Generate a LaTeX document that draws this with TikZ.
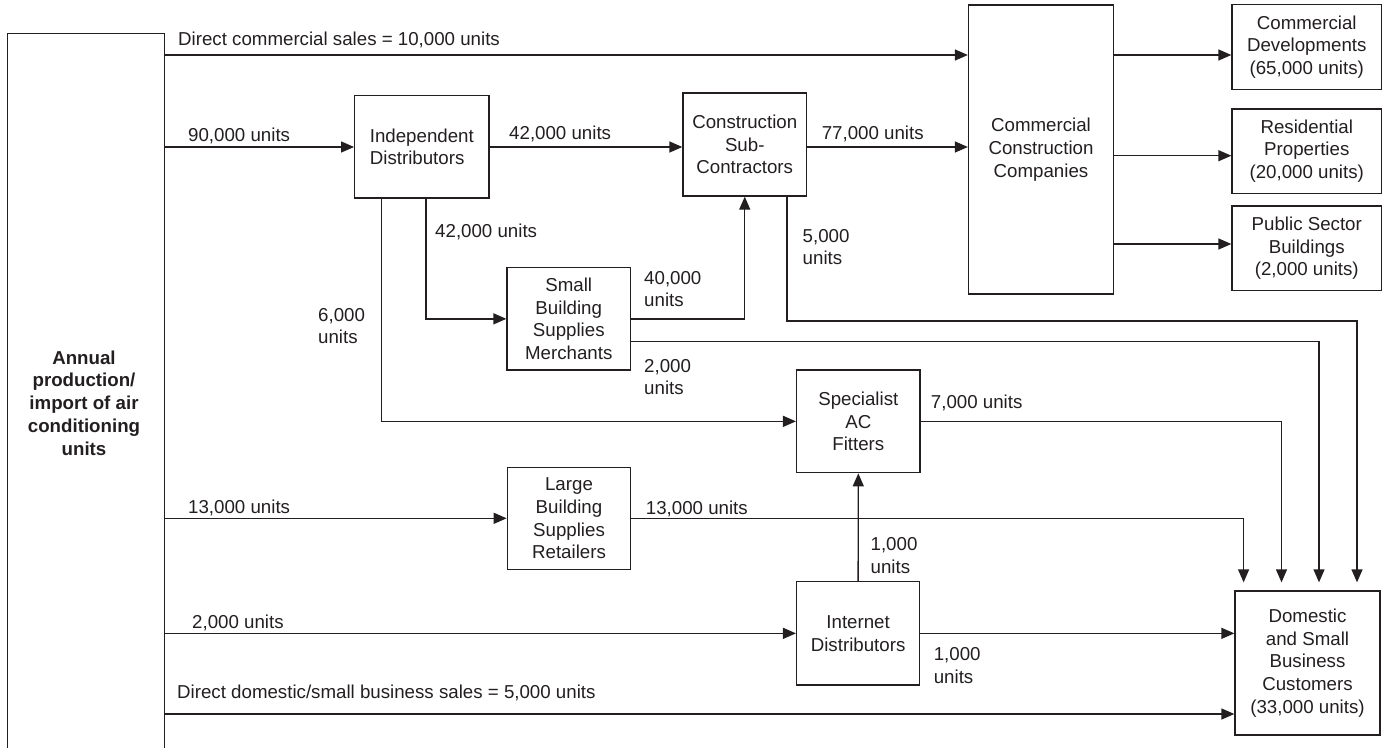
\documentclass[tikz,border=0pt]{standalone}
\usepackage{fontspec}
\setmainfont{Liberation Sans}
\usetikzlibrary{arrows.meta}
\definecolor{ink}{RGB}{35,31,32}
\begin{document}
\begin{tikzpicture}[x=1pt,y=-1pt,
  every node/.style={font=\fontsize{18.7}{22.7}\selectfont, text=ink},
  box/.style={draw=ink, line width=1.3pt, inner sep=0pt, align=center},
  lbl/.style={anchor=base west, inner sep=0pt, align=left},
  flow/.style={draw=ink, line width=1.3pt, -{Triangle[length=13pt,width=11pt]}},
  intop/.style={flow, shorten >=8pt}]

\useasboundingbox (0,0) rectangle (1383,747);

% source column
\node[box, draw=none, minimum width=156pt, minimum height=713pt] (src) at (86,390.5) {};
\draw[ink, line width=1.3pt] (src.south west) -- (src.north west) -- (src.north east) -- (src.south east);
\node[font=\fontsize{18.7}{22.7}\selectfont\bfseries, align=center, inner sep=0pt] (srctext) at (84,403)
  {Annual\\production/\\import of air\\conditioning\\units};

% channel boxes
\node[box, minimum width=134.3pt, minimum height=102.3pt, align=left] (ind) at (421.85,146.85) {Independent\\Distributors};
\node[box, minimum width=123.5pt, minimum height=103pt] (csc) at (744.75,144.5) {Construction\\Sub-\\Contractors};
\node[box, minimum width=145pt, minimum height=289pt] (ccc) at (1041,149.5) {Commercial\\Construction\\Companies};
\node[box, minimum width=149.5pt, minimum height=84.6pt] (rb1) at (1306.75,47) {Commercial\\Developments\\(65,000 units)};
\node[box, minimum width=149.5pt, minimum height=84.3pt] (rb2) at (1306.75,151.15) {Residential\\Properties\\(20,000 units)};
\node[box, minimum width=149.5pt, minimum height=84.7pt] (rb3) at (1306.75,248.35) {Public Sector\\Buildings\\(2,000 units)};
\node[box, minimum width=123.5pt, minimum height=102.3pt] (sbsm) at (568.75,318.85) {Small\\Building\\Supplies\\Merchants};
\node[box, minimum width=123.4pt, minimum height=102.7pt] (sacf) at (858.3,421.35) {Specialist\\AC\\Fitters};
\node[box, minimum width=123.4pt, minimum height=102pt] (lbsr) at (569,518.3) {Large\\Building\\Supplies\\Retailers};
\node[box, minimum width=123pt, minimum height=103.3pt] (id) at (858.1,633.35) {Internet\\Distributors};
\node[box, minimum width=145pt, minimum height=144pt] (dom) at (1307.5,663) {Domestic\\and Small\\Business\\Customers\\(33,000 units)};

% routing levels
\coordinate (yDirCom) at (0,55);
\coordinate (yMain) at (0,147);
\coordinate (yRes) at (0,155.7);
\coordinate (yPub) at (0,244);
\coordinate (yCscDom) at (0,321);
\coordinate (ySbsmDom) at (0,341.7);
\coordinate (yDirDom) at (0,714);
\coordinate (xIndSacf) at (381.7,0);
\coordinate (xIndSbsm) at (426,0);
\coordinate (xCscDom) at (787,0);
\coordinate (xIn1) at (1243.6,0);
\coordinate (xIn2) at (1281.5,0);
\coordinate (xIn3) at (1319,0);
\coordinate (xIn4) at (1357,0);

% flows
\draw[flow] (src.east |- yDirCom) -- (ccc.west |- yDirCom);
\draw[flow] (src.east |- yMain) -- (ind.west |- yMain);
\draw[flow] (ind.east |- yMain) -- (csc.west |- yMain);
\draw[flow] (csc.east |- yMain) -- (ccc.west |- yMain);
\draw[flow] (ccc.east |- yDirCom) -- (rb1.west |- yDirCom);
\draw[flow] (ccc.east |- yRes) -- (rb2.west |- yRes);
\draw[flow] (ccc.east |- yPub) -- (rb3.west |- yPub);
\draw[flow] (xIndSbsm |- ind.south) |- (sbsm.west);
\draw[flow] (xIndSacf |- ind.south) |- (sacf.west);
\draw[flow] (sbsm.east) -| (csc.south);
\draw[intop] (sbsm.east |- ySbsmDom) -| (xIn3 |- dom.north);
\draw[intop] (xCscDom |- csc.south) |- (xIn4 |- yCscDom) -- (xIn4 |- dom.north);
\draw[intop] (sacf.east) -| (xIn2 |- dom.north);
\draw[flow] (src.east |- lbsr.west) -- (lbsr.west);
\draw[intop] (lbsr.east) -| (xIn1 |- dom.north);
\draw[flow] (src.east |- id.west) -- (id.west);
\draw[flow] (id.north) -- (sacf.south);
\draw[flow] (id.east) -- (dom.west |- id.east);
\draw[flow] (src.east |- yDirDom) -- (dom.west |- yDirDom);

% quantities (multi-line labels are placed by the baseline of their last line)
\node[lbl] (lDirCom) at (178,45) {Direct commercial sales = 10,000 units};
\node[lbl] (l90) at (188,141) {90,000 units};
\node[lbl] (l42a) at (509,139.7) {42,000 units};
\node[lbl] (l77) at (821.6,139.7) {77,000 units};
\node[lbl] (l42b) at (435,237.4) {42,000 units};
\node[lbl] (l6) at (318,343.7) {6,000\\units};
\node[lbl] (l40) at (644,306.7) {40,000\\units};
\node[lbl] (l2a) at (644,394.7) {2,000\\units};
\node[lbl] (l5) at (802.5,264.7) {5,000\\units};
\node[lbl] (l7) at (930.7,408.7) {7,000 units};
\node[lbl] (l13a) at (188,513.4) {13,000 units};
\node[lbl] (l13b) at (645.7,514.4) {13,000 units};
\node[lbl] (l1a) at (870.4,573.4) {1,000\\units};
\node[lbl] (l2b) at (192,628.4) {2,000 units};
\node[lbl] (l1b) at (933.6,683.4) {1,000\\units};
\node[lbl] (lDirDom) at (177,698.4) {Direct domestic/small business sales = 5,000 units};

\end{tikzpicture}
\end{document}
